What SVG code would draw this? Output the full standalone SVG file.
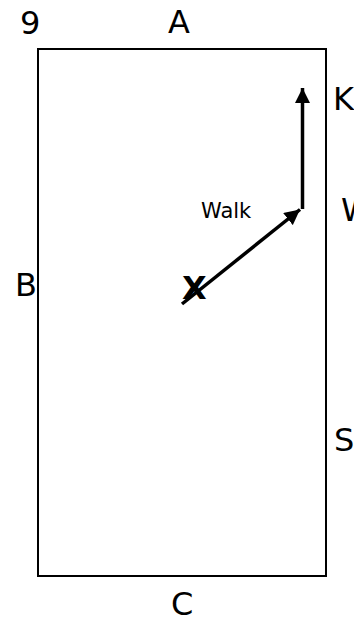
<svg xmlns="http://www.w3.org/2000/svg" width="354" height="619" viewBox="0 0 354 619">
<style>
.lbl{font-family:"DejaVu Sans",sans-serif;font-size:32px;fill:#000}
.bold{font-weight:bold}
.walk{font-family:"DejaVu Sans",sans-serif;font-size:21px;fill:#000}
.ln{stroke:#000;stroke-width:3.5;fill:none}
</style>
<defs>
<marker id="ah" viewBox="0 0 10 10" refX="10" refY="5" markerWidth="4.4" markerHeight="4.4" orient="auto" markerUnits="strokeWidth">
<path d="M0,0 L10,5 L0,10 Z" fill="#000"/>
</marker>
</defs>
<rect width="354" height="619" fill="#fff"/>
<g id="frame">
<rect x="38" y="49" width="288" height="527" fill="none" stroke="#000" stroke-width="2"/>
</g>
<g id="labels">
<text class="lbl" x="20" y="34">9</text>
<text class="lbl" x="168" y="33">A</text>
<text class="lbl" x="15" y="296">B</text>
<text class="lbl" x="333" y="110">K</text>
<text class="lbl" x="341" y="221">W</text>
<text class="lbl" x="334" y="451">S</text>
<text class="lbl" x="171" y="615">C</text>
</g>
<g id="node-x">
<text class="lbl bold" x="182" y="299">X</text>
</g>
<g id="node-walk">
<text class="walk" x="201" y="218">Walk</text>
</g>
<g id="connectors">
<line class="ln" x1="182" y1="304" x2="300" y2="209.5" marker-end="url(#ah)"/>
<line class="ln" x1="302.5" y1="209" x2="302.5" y2="88" marker-end="url(#ah)"/>
</g>
</svg>
